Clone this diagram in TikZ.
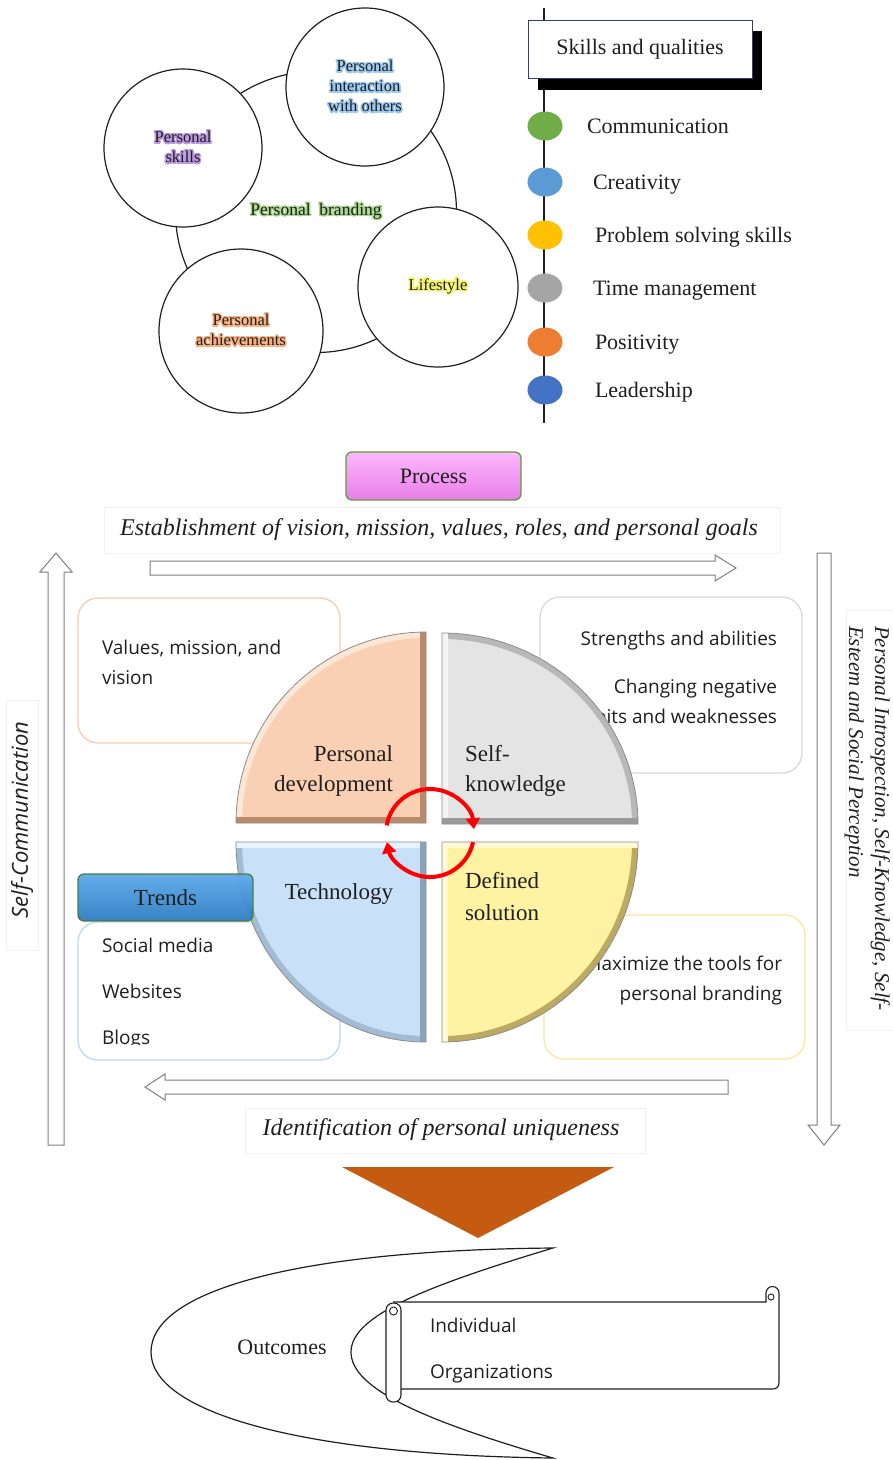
\documentclass[tikz,border=0pt]{standalone}
\usepackage{fontspec}
\setmainfont{Liberation Serif}
\newfontfamily\osans{Open Sans}
\usepackage[copies]{contour}
\contourlength{1.4pt}
\contournumber{24}
\usetikzlibrary{arrows.meta,shapes.geometric}

\definecolor{inkc}{HTML}{1F1F1F}
\definecolor{glgreen}{HTML}{A9D88E}
\definecolor{glpurple}{HTML}{B996E0}
\definecolor{glblue}{HTML}{9DC8F0}
\definecolor{glyellow}{HTML}{F5F56A}
\definecolor{glorange}{HTML}{F6B183}
\definecolor{boxblue}{HTML}{2F3F6F}
\definecolor{dgreen}{HTML}{70AD47}
\definecolor{dlblue}{HTML}{5B9BD5}
\definecolor{dyellow}{HTML}{FFC000}
\definecolor{dgrey}{HTML}{A5A5A5}
\definecolor{dorange}{HTML}{ED7D31}
\definecolor{dblue}{HTML}{4472C4}
\definecolor{pinkA}{HTML}{FBB8FB}
\definecolor{pinkB}{HTML}{E97EE9}
\definecolor{procgreen}{HTML}{5E9E3C}
\definecolor{arrowgrey}{HTML}{7F7F7F}
\definecolor{bpeach}{HTML}{F8CBAD}
\definecolor{bgrey}{HTML}{D9D9D9}
\definecolor{blblue}{HTML}{BDD7EE}
\definecolor{byellow}{HTML}{FFE699}
\definecolor{pdfill}{HTML}{F9D0B3}
\definecolor{pddark}{HTML}{B88A6C}
\definecolor{pdlight}{HTML}{FCE6D6}
\definecolor{skfill}{HTML}{E4E4E4}
\definecolor{skdark}{HTML}{9A9A9A}
\definecolor{sklight}{HTML}{F4F4F4}
\definecolor{tefill}{HTML}{C8E1F8}
\definecolor{tedark}{HTML}{8BA3BA}
\definecolor{telight}{HTML}{E6F2FC}
\definecolor{dsfill}{HTML}{FFF2A3}
\definecolor{dsdark}{HTML}{BCAA62}
\definecolor{dslight}{HTML}{FFF9D6}
\definecolor{trA}{HTML}{5DAAEA}
\definecolor{trB}{HTML}{2E7CC4}
\definecolor{trborder}{HTML}{4E7A2F}
\definecolor{tricol}{HTML}{C55A11}

\begin{document}
\begin{tikzpicture}[x=1pt,y=-1pt,
  every node/.style={inner sep=0pt,outer sep=0pt,text=inkc},
  ring/.style={circle,draw=inkc,line width=1.2pt,fill=white,align=center,
    font=\fontsize{16.5}{20}\selectfont},
  dot/.style={ellipse,minimum width=35,minimum height=29},
  skilltxt/.style={anchor=base west,font=\fontsize{22}{26}\selectfont},
  capit/.style={font=\itshape\fontsize{24}{28}\selectfont},
  blockarrow/.style={draw=arrowgrey,fill=white,line width=1pt},
  faint/.style={draw=black!6,line width=0.8pt},
  tbox/.style={rounded corners=20,line width=1.3pt,fill=white,anchor=north west},
  sanst/.style={font=\osans\fontsize{19}{23}\selectfont},
  qlabel/.style={font=\fontsize{23}{27}\selectfont},
  bev/.style={line width=12pt},
  qline/.style={line width=0.8pt,draw=black!45},
  redarrow/.style={draw=red,line width=4pt,-{Triangle[length=11pt,width=14pt]}}
]
\useasboundingbox (0,0) rectangle (893,1460);
\fill[white] (0,0) rectangle (893,1460);

% ---------- personal branding circles
\node[ring,minimum size=281,font=\fontsize{17.5}{21}\selectfont] (brand) at (316,212)
  {\contour{glgreen}{Personal\ \ branding}};
\node[ring,minimum size=158] (pskills) at (183,148)
  {\contour{glpurple}{Personal}\\\contour{glpurple}{skills}};
\node[ring,minimum size=158] (pinter) at (365,87)
  {\contour{glblue}{Personal}\\\contour{glblue}{interaction}\\\contour{glblue}{with others}};
\node[ring,minimum size=160] (plife) at (438,287)
  {\contour{glyellow}{Lifestyle}};
\node[ring,minimum size=164] (pach) at (241,331)
  {\contour{glorange}{Personal}\\\contour{glorange}{achievements}};

% ---------- skills and qualities
\coordinate (spineTop) at (544,8);
\coordinate (spineBot) at (544,423);
\draw[inkc,line width=1.3pt] (spineTop) -- (spineBot);
\fill[black] (538,31) rectangle (762,90);
\node[draw=boxblue,line width=1pt,fill=white,minimum width=224,minimum height=58,
  font=\fontsize{22}{26}\selectfont] (skills) at (640,49) {Skills and qualities};
\node[dot,fill=dgreen] (d1) at (545,126) {};
\node[dot,fill=dlblue] (d2) at (545,182) {};
\node[dot,fill=dyellow] (d3) at (545,235) {};
\node[dot,fill=dgrey] (d4) at (545,288) {};
\node[dot,fill=dorange] (d5) at (545,342) {};
\node[dot,fill=dblue] (d6) at (545,390) {};
\node[skilltxt] (l1) at (587,133) {Communication};
\node[skilltxt] (l2) at (593,189) {Creativity};
\node[skilltxt] (l3) at (595,242) {Problem solving skills};
\node[skilltxt] (l4) at (593,295) {Time management};
\node[skilltxt] (l5) at (595,349) {Positivity};
\node[skilltxt] (l6) at (595,397) {Leadership};

% ---------- process header
\node[draw=procgreen,line width=1.3pt,rounded corners=6,minimum width=175,minimum height=48,
  top color=pinkA,bottom color=pinkB,font=\fontsize{22}{26}\selectfont] (process) at (433.5,476) {Process};

% faint caption boxes
\draw[faint] (104,507) rectangle (780,553);
\draw[faint] (6,700) rectangle (38,950);
\draw[faint] (846,610) rectangle (893,1030);
\draw[faint] (245,1108) rectangle (645,1153);

\node[capit] (estab) at (439,530) {Establishment of vision, mission, values, roles, and personal goals};

% block arrows
\draw[blockarrow] (150,561) -- (715,561) -- (715,555) -- (736,568) -- (715,581) -- (715,575) -- (150,575) -- cycle;
\draw[blockarrow] (48,1145) -- (48,572) -- (40,572) -- (56,553) -- (72,572) -- (64,572) -- (64,1145) -- cycle;
\draw[blockarrow] (817,553) -- (831,553) -- (831,1125) -- (840,1125) -- (824,1145) -- (808,1125) -- (817,1125) -- cycle;
\draw[blockarrow] (728,1080) -- (165,1080) -- (165,1074) -- (145,1087) -- (165,1100) -- (165,1094) -- (728,1094) -- cycle;

\node[rotate=90,font=\osans\itshape\fontsize{22}{26}\selectfont] (selfcomm) at (22,820) {Self-Communication};
\node[rotate=-90,anchor=north west,align=left,font=\itshape\fontsize{21}{26}\selectfont] (introsp) at (890,626)
  {Personal Introspection, Self-Knowledge, Self-\\Esteem and Social Perception};
\node[capit] (ident) at (441,1130) {Identification of personal uniqueness};

% ---------- text boxes behind the quadrants
\node[tbox,draw=bpeach,minimum width=262,minimum height=145] (valbox) at (78,598) {};
\node[sanst,anchor=base west] (val1) at (102,654) {Values, mission, and};
\node[sanst,anchor=base west] (val2) at (102,684) {vision};

\node[tbox,draw=bgrey,minimum width=262,minimum height=176] (strbox) at (540,597) {};
\node[sanst,anchor=base east] (str1) at (777,645) {Strengths and abilities};
\node[sanst,anchor=base east] (str2) at (777,693) {Changing negative};
\node[sanst,anchor=base east] (str3) at (777,723) {habits and weaknesses};

\node[tbox,draw=blblue,minimum width=262,minimum height=138] (trbox) at (78,922) {};
\begin{scope}
\clip (78,922) rectangle (340,1044);
\node[sanst,anchor=base west] (tr1) at (102,952) {Social media};
\node[sanst,anchor=base west] (tr2) at (102,998) {Websites};
\node[sanst,anchor=base west] (tr3) at (102,1044) {Blogs};
\end{scope}

\node[tbox,draw=byellow,minimum width=261,minimum height=144] (maxbox) at (544,915) {};
\node[sanst,anchor=base east] (mx1) at (782,970) {Maximize the tools for};
\node[sanst,anchor=base east] (mx2) at (782,1000) {personal branding};

% ---------- quadrants (bevelled)
% top-left: personal development
\begin{scope}
\clip (426,823) -- (236,823) arc[start angle=180,end angle=270,x radius=190,y radius=191] -- cycle;
\fill[pdfill] (426,823) -- (236,823) arc[start angle=180,end angle=270,x radius=190,y radius=191] -- cycle;
\draw[bev,pdlight] (236,823) arc[start angle=180,end angle=270,x radius=190,y radius=191];
\draw[bev,pddark] (426,632) -- (426,823) -- (236,823);
\end{scope}
\draw[qline] (426,823) -- (236,823) arc[start angle=180,end angle=270,x radius=190,y radius=191] -- cycle;
% top-right: self-knowledge
\begin{scope}
\clip (442,824) -- (442,633) arc[start angle=270,end angle=360,x radius=196,y radius=191] -- cycle;
\fill[skfill] (442,824) -- (442,633) arc[start angle=270,end angle=360,x radius=196,y radius=191] -- cycle;
\draw[bev,skdark!70!white] (442,633) arc[start angle=270,end angle=360,x radius=196,y radius=191];
\draw[bev,sklight] (442,824) -- (442,633);
\draw[bev,skdark] (638,824) -- (442,824);
\end{scope}
\draw[qline] (442,824) -- (442,633) arc[start angle=270,end angle=360,x radius=196,y radius=191] -- cycle;
% bottom-left: technology
\begin{scope}
\clip (426,842) -- (236,842) arc[start angle=180,end angle=90,x radius=190,y radius=200] -- cycle;
\fill[tefill] (426,842) -- (236,842) arc[start angle=180,end angle=90,x radius=190,y radius=200] -- cycle;
\draw[bev,tedark!60!tefill] (236,842) arc[start angle=180,end angle=90,x radius=190,y radius=200];
\draw[bev,telight] (236,842) -- (426,842);
\draw[bev,tedark] (426,842) -- (426,1042);
\end{scope}
\draw[qline] (426,842) -- (236,842) arc[start angle=180,end angle=90,x radius=190,y radius=200] -- cycle;
% bottom-right: defined solution
\begin{scope}
\clip (442,842) -- (638,842) arc[start angle=0,end angle=90,x radius=196,y radius=200] -- cycle;
\fill[dsfill] (442,842) -- (638,842) arc[start angle=0,end angle=90,x radius=196,y radius=200] -- cycle;
\draw[bev,dsdark] (638,842) arc[start angle=0,end angle=90,x radius=196,y radius=200];
\draw[bev,dslight] (442,1042) -- (442,842) -- (638,842);
\end{scope}
\draw[qline] (442,842) -- (638,842) arc[start angle=0,end angle=90,x radius=196,y radius=200] -- cycle;

\node[qlabel,anchor=base east] (qpd1) at (393,761) {Personal};
\node[qlabel,anchor=base east] (qpd2) at (393,791) {development};
\node[qlabel,anchor=base west] (qsk1) at (465,761) {Self-};
\node[qlabel,anchor=base west] (qsk2) at (465,791) {knowledge};
\node[qlabel,anchor=base east] (qte) at (393,899) {Technology};
\node[qlabel,anchor=base west] (qds1) at (465,888) {Defined};
\node[qlabel,anchor=base west] (qds2) at (465,920) {solution};

% red cycle arrows
\coordinate (cyc) at (430,833);
\draw[redarrow] ([shift={(cyc)}]190:44) arc[start angle=190,end angle=355,radius=44];
\draw[redarrow] ([shift={(cyc)}]12:44) arc[start angle=12,end angle=168,radius=44];

% trends header
\node[anchor=north west,draw=trborder,line width=1.3pt,rounded corners=6,minimum width=175,minimum height=47,
  top color=trA,bottom color=trB,opacity=0.95,text opacity=1,font=\fontsize{23}{27}\selectfont] (trends) at (78,874) {Trends};

% ---------- outcomes
\fill[tricol] (342,1167) -- (614,1167) -- (478,1238) -- cycle;
\draw[inkc,line width=1.2pt] (553,1248) .. controls (300,1250) and (151,1290) .. (151,1352)
  .. controls (151,1412) and (300,1455) .. (553,1458)
  .. controls (430,1422) and (351,1390) .. (351,1352)
  .. controls (351,1315) and (430,1285) .. (553,1248) -- cycle;
\node[font=\fontsize{22}{26}\selectfont] (outc) at (282,1347) {Outcomes};

% scroll
\draw[inkc,line width=1.1pt,fill=white] (393,1302) -- (766,1302) -- (766,1293)
  arc[start angle=180,end angle=360,radius=6.5] -- (779,1383) arc[start angle=0,end angle=90,radius=6] -- (400,1389);
\draw[inkc,line width=0.9pt] (771,1297) circle[radius=3];
\draw[inkc,line width=1.1pt,fill=white,rounded corners=7] (386,1303) rectangle (401,1402);
\draw[inkc,line width=0.9pt] (393.5,1311) circle[radius=4];
\node[sanst,anchor=base west] (ind) at (430,1332) {Individual};
\node[sanst,anchor=base west] (org) at (430,1378) {Organizations};
\end{tikzpicture}
\end{document}
